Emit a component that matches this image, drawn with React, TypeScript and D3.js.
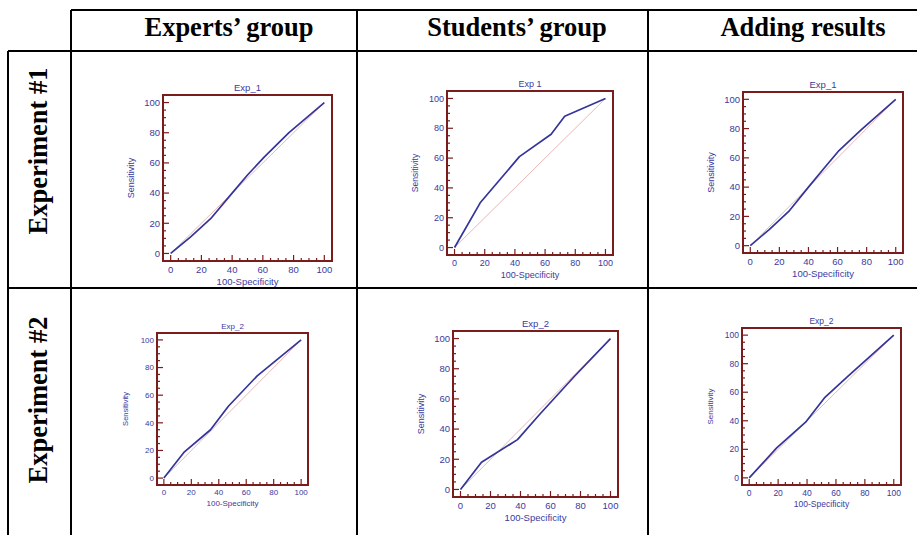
import React from "react";
import * as d3 from "d3";

// column / row captions
const columnHeads = ["Experts\u2019 group", "Students\u2019 group", "Adding results"];
const rowHeads = ["Experiment #1", "Experiment #2"];
const tickValues = [0, 20, 40, 60, 80, 100];

// ROC points (100-Specificity, Sensitivity)
const expertsExp1X = [0, 13, 26, 40, 50, 61, 77, 100];
const expertsExp1Y = [0, 11, 23, 40, 52, 64, 80, 100];
const studentsExp1X = [0, 17, 43, 64, 73, 100];
const studentsExp1Y = [0, 30, 61, 76, 88, 100];
const addingExp1X = [0, 13, 27, 40, 50, 61, 76, 100];
const addingExp1Y = [0, 11, 24, 40, 52, 65, 79, 100];
const expertsExp2X = [0, 15, 34, 47, 68, 100];
const expertsExp2Y = [0, 19, 35, 52, 74, 100];
const studentsExp2X = [0, 14, 38, 53, 76, 100];
const studentsExp2Y = [0, 18, 33, 50, 75, 100];
const addingExp2X = [0, 19, 39, 52, 68, 100];
const addingExp2Y = [0, 21, 39, 56, 71, 100];

const FRAME = "#7a1c1c";
const CURVE = "#34349a";
const DIAG = "#e6b8b8";
const LABEL = "#3a3aa0";

type Box = { x0: number; y0: number; x1: number; y1: number };

function RocPlot({ box, title, xs, ys, fs = 9 }: { box: Box; title: string; xs: number[]; ys: number[]; fs?: number }) {
  const x = d3.scaleLinear().domain([-5, 105]).range([box.x0, box.x1]);
  const y = d3.scaleLinear().domain([-5, 105]).range([box.y1, box.y0]);
  const pts: [number, number][] = xs.map((v, i) => [v, ys[i]]);
  const line = d3.line<[number, number]>().x(d => x(d[0])).y(d => y(d[1]));
  const minor = d3.range(0, 101, 5);
  const font = "Liberation Sans, Arial, sans-serif";
  return (
    <g fontFamily={font} fill={LABEL}>
      <path d={line([[0, 0], [100, 100]]) || ""} stroke={DIAG} strokeWidth={1} fill="none" />
      <path d={line(pts) || ""} stroke={CURVE} strokeWidth={1.7} fill="none" strokeLinejoin="round" />
      {minor.map(v => {
        const len = v % 20 === 0 ? 6 : 3;
        return (
          <g key={v}>
            <line x1={x(v)} x2={x(v)} y1={box.y1} y2={box.y1 - len} stroke={FRAME} strokeWidth={1.2} />
            <line x1={box.x0} x2={box.x0 + len} y1={y(v)} y2={y(v)} stroke={FRAME} strokeWidth={1.2} />
          </g>
        );
      })}
      <rect x={box.x0} y={box.y0} width={box.x1 - box.x0} height={box.y1 - box.y0} fill="none" stroke={FRAME} strokeWidth={2} />
      {tickValues.map(v => (
        <g key={v} fontSize={fs}>
          <text x={x(v)} y={box.y1 + fs + 2} textAnchor="middle">{v}</text>
          <text x={box.x0 - 3} y={y(v)} dy="0.35em" textAnchor="end">{v}</text>
        </g>
      ))}
      <text x={(box.x0 + box.x1) / 2} y={box.y0 - 4} textAnchor="middle" fontSize={fs}>{title}</text>
      <text x={(box.x0 + box.x1) / 2} y={box.y1 + 2 * fs + 5} textAnchor="middle" fontSize={fs}>100-Specificity</text>
      <text transform={`translate(${box.x0 - 29},${(box.y0 + box.y1) / 2}) rotate(-90)`} textAnchor="middle" fontSize={fs - 0.5}>Sensitivity</text>
    </g>
  );
}

export default function App() {
  const W = 917, H = 535;
  const colX = [71, 357, 648];
  const rowY = [51, 288];
  const serif = "Liberation Serif, Times New Roman, serif";
  return (
    <svg width={W} height={H} style={{ position: "absolute", left: 0, top: 0, background: "#fff" }}>
      <rect width={W} height={H} fill="#fff" />
      {/* table grid */}
      <g stroke="#000" strokeWidth={2}>
        <line x1={colX[0]} x2={W} y1={10} y2={10} />
        <line x1={8} x2={W} y1={rowY[0]} y2={rowY[0]} />
        <line x1={8} x2={W} y1={rowY[1]} y2={rowY[1]} />
        <line x1={8} x2={8} y1={rowY[0]} y2={H} />
        {colX.map(cx => <line key={cx} x1={cx} x2={cx} y1={10} y2={H} />)}
      </g>
      <g fontFamily={serif} fontWeight="bold" fontSize={26.5}>
        {columnHeads.map((t, i) => (
          <text key={t} x={[229, 517, 803][i]} y={36} textAnchor="middle">{t}</text>
        ))}
        {rowHeads.map((t, i) => (
          <text key={t} transform={`translate(47,${[151, 400][i]}) rotate(-90)`} textAnchor="middle">{t}</text>
        ))}
      </g>
      <RocPlot box={{ x0: 163, y0: 95, x1: 332, y1: 261 }} title="Exp_1" xs={expertsExp1X} ys={expertsExp1Y} fs={9.5} />
      <RocPlot box={{ x0: 447, y0: 91, x1: 613, y1: 255 }} title="Exp 1" xs={studentsExp1X} ys={studentsExp1Y} fs={9} />
      <RocPlot box={{ x0: 743, y0: 92, x1: 903, y1: 253 }} title="Exp_1" xs={addingExp1X} ys={addingExp1Y} fs={9.5} />
      <RocPlot box={{ x0: 157, y0: 333, x1: 308, y1: 485 }} title="Exp_2" xs={expertsExp2X} ys={expertsExp2Y} fs={8} />
      <RocPlot box={{ x0: 453, y0: 331, x1: 618, y1: 497 }} title="Exp_2" xs={studentsExp2X} ys={studentsExp2Y} fs={9.5} />
      <RocPlot box={{ x0: 742, y0: 328, x1: 901, y1: 485 }} title="Exp_2" xs={addingExp2X} ys={addingExp2Y} fs={8.5} />
    </svg>
  );
}
